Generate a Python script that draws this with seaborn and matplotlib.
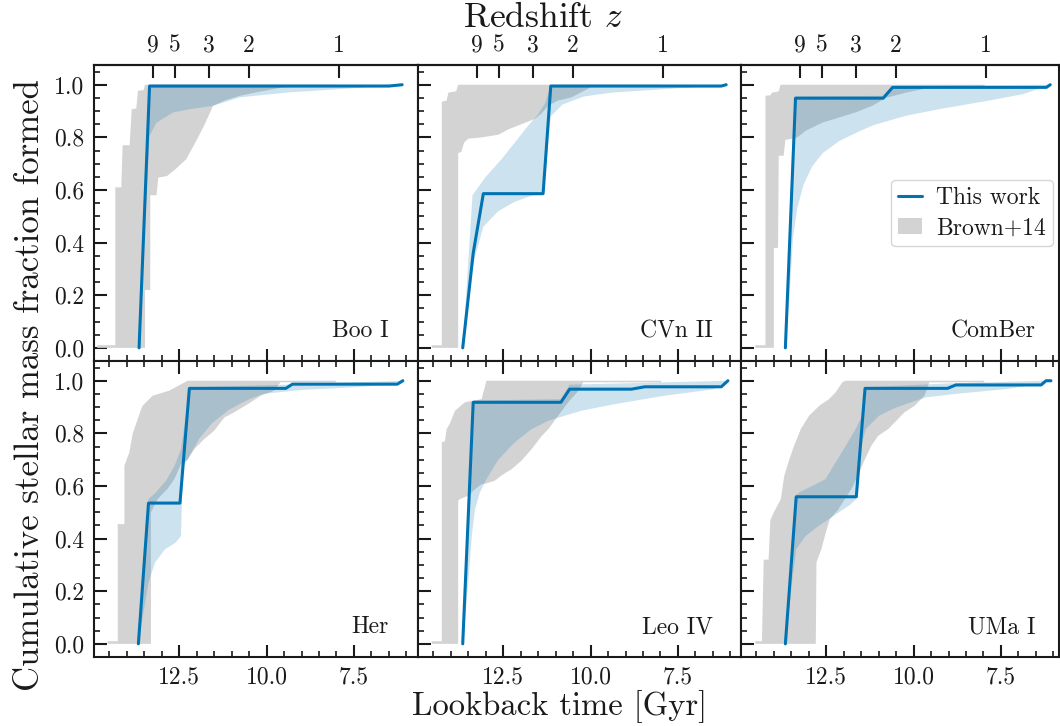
import numpy as np
import matplotlib
matplotlib.use("Agg")
import matplotlib.pyplot as plt
import seaborn as sns
from matplotlib.lines import Line2D
from matplotlib.patches import Patch
from matplotlib.ticker import FixedLocator, MultipleLocator, NullLocator

# ---------------- data ----------------
GALAXIES = ["Boo I", "CVn II", "ComBer", "Her", "Leo IV", "UMa I"]
Z_TICKS = [9, 5, 3, 2, 1]
X_TICKS = [12.5, 10.0, 7.5]
Y_TICKS = [0.0, 0.2, 0.4, 0.6, 0.8, 1.0]

# Boo I
BOO_LINE_T = [13.65, 13.35, 6.50, 6.12]
BOO_LINE_F = [0.0, 0.995, 0.995, 1.0]
BOO_BHI_T = [13.65, 13.36, 6.12]
BOO_BHI_F = [0.0, 1.0, 1.0]
BOO_BLO_T = [13.65, 13.35, 13.15, 12.67, 12.2, 11.53, 10.77, 9.35, 7.93, 6.5, 6.12]
BOO_BLO_F = [0.0, 0.806, 0.856, 0.895, 0.907, 0.92, 0.952, 0.971, 0.983, 0.996, 1.0]
BOO_GHI_T = [14.85, 14.85, 14.33, 14.33, 14.16, 14.12, 13.92, 13.86, 13.73, 13.68, 13.52, 13.48, 8.02]
BOO_GHI_F = [0.0, 0.01, 0.01, 0.61, 0.61, 0.77, 0.77, 0.907, 0.91, 0.977, 0.98, 1.0, 1.0]
BOO_GLO_T = [13.48, 13.48, 13.33, 13.33, 13.15, 13.10, 12.85, 12.6, 12.3, 12.0, 11.77, 11.53, 11.2, 10.77, 10.3, 9.54, 8.6, 8.02]
BOO_GLO_F = [0.0, 0.22, 0.22, 0.58, 0.58, 0.647, 0.653, 0.68, 0.717, 0.79, 0.85, 0.92, 0.94, 0.958, 0.971, 0.99, 0.995, 0.995]

# CVn II
CVN_LINE_T = [13.66, 13.36, 13.07, 11.36, 11.14, 6.26, 6.12]
CVN_LINE_F = [0.0, 0.36, 0.586, 0.586, 0.995, 0.995, 1.0]
CVN_BHI_T = [13.66, 13.38, 13.02, 12.55, 12.17, 11.79, 11.5, 11.3, 11.14, 10.0, 6.12]
CVN_BHI_F = [0.0, 0.58, 0.647, 0.717, 0.78, 0.844, 0.888, 0.93, 0.996, 1.0, 1.0]
CVN_BLO_T = [13.66, 13.52, 13.34, 13.07, 12.64, 12.17, 11.69, 11.36, 11.14, 10.8, 10.2, 9.4, 7.9, 6.5, 6.12]
CVN_BLO_F = [0.0, 0.2, 0.33, 0.46, 0.52, 0.555, 0.578, 0.586, 0.88, 0.925, 0.955, 0.97, 0.983, 0.995, 1.0]
CVN_GHI_T = [14.55, 14.55, 14.26, 14.26, 14.12, 14.07, 13.85, 13.79, 7.98]
CVN_GHI_F = [0.0, 0.01, 0.01, 0.935, 0.94, 0.97, 0.975, 1.0, 1.0]
CVN_GLO_T = [13.79, 13.79, 13.70, 13.62, 13.5, 13.12, 12.64, 12.36, 11.98, 11.6, 11.41, 11.22, 10.93, 10.55, 10.07, 9.98, 7.98]
CVN_GLO_F = [0.0, 0.74, 0.745, 0.78, 0.795, 0.8, 0.81, 0.83, 0.85, 0.87, 0.89, 0.92, 0.94, 0.952, 0.985, 0.994, 0.994]

# ComBer
COM_LINE_T = [13.67, 13.38, 10.87, 10.6, 6.2, 6.09]
COM_LINE_F = [0.0, 0.949, 0.949, 0.99, 0.99, 1.0]
COM_BHI_T = [13.67, 13.38, 10.87, 10.6, 6.09]
COM_BHI_F = [0.0, 0.955, 0.958, 0.995, 1.0]
COM_BLO_T = [13.67, 13.55, 13.45, 13.33, 13.15, 12.9, 12.6, 12.14, 11.6, 11.18, 10.22, 9.27, 7.83, 6.87, 6.09]
COM_BLO_F = [0.0, 0.2, 0.42, 0.53, 0.62, 0.69, 0.74, 0.785, 0.82, 0.845, 0.882, 0.907, 0.94, 0.964, 1.0]
COM_GHI_T = [14.53, 14.53, 14.24, 14.24, 14.10, 14.05, 13.86, 13.81, 7.97]
COM_GHI_F = [0.0, 0.01, 0.01, 0.958, 0.96, 0.97, 0.975, 1.0, 1.0]
COM_GLO_T = [14.0, 14.0, 13.88, 13.86, 13.72, 13.67, 13.48, 13.33, 13.09, 12.61, 12.14, 11.66, 11.18, 10.8, 10.22, 9.75, 9.70, 7.97]
COM_GLO_F = [0.0, 0.38, 0.38, 0.73, 0.73, 0.79, 0.795, 0.8, 0.825, 0.856, 0.875, 0.895, 0.92, 0.95, 0.97, 0.983, 0.994, 0.994]

# Her
HER_LINE_T = [13.67, 13.38, 12.48, 12.21, 9.45, 9.26, 6.26, 6.1]
HER_LINE_F = [0.0, 0.535, 0.535, 0.971, 0.971, 0.987, 0.987, 1.0]
HER_BHI_T = [13.67, 13.38, 13.17, 12.88, 12.64, 12.45, 12.31, 12.21, 9.45, 6.1]
HER_BHI_F = [0.0, 0.55, 0.575, 0.62, 0.675, 0.74, 0.87, 0.975, 0.985, 1.0]
HER_BLO_T = [13.67, 13.38, 13.19, 12.9, 12.6, 12.45, 12.4, 12.35, 11.93, 11.55, 11.07, 10.5, 10.1, 9.0, 7.5, 6.5, 6.1]
HER_BLO_F = [0.0, 0.233, 0.31, 0.36, 0.385, 0.41, 0.66, 0.68, 0.78, 0.84, 0.89, 0.93, 0.95, 0.965, 0.975, 0.985, 1.0]
HER_GHI_T = [14.55, 14.55, 14.26, 14.26, 14.07, 14.07, 13.93, 13.83, 13.64, 13.55, 13.26, 12.79, 12.26, 8.02]
HER_GHI_F = [0.0, 0.01, 0.01, 0.455, 0.455, 0.677, 0.727, 0.80, 0.873, 0.905, 0.943, 0.962, 1.0, 1.0]
HER_GLO_T = [13.31, 13.31, 13.12, 12.83, 12.64, 12.45, 12.26, 12.07, 11.79, 11.5, 11.21, 10.93, 10.55, 10.17, 9.79, 9.6, 8.02]
HER_GLO_F = [0.0, 0.5, 0.55, 0.59, 0.626, 0.683, 0.70, 0.74, 0.778, 0.81, 0.86, 0.88, 0.91, 0.943, 0.962, 0.994, 0.994]

# Leo IV
LEO_LINE_T = [13.66, 13.36, 10.85, 10.6, 8.83, 8.45, 6.26, 6.07]
LEO_LINE_F = [0.0, 0.918, 0.918, 0.968, 0.968, 0.977, 0.977, 1.0]
LEO_BHI_T = [13.66, 13.36, 10.85, 10.6, 6.07]
LEO_BHI_F = [0.0, 0.925, 0.93, 0.985, 1.0]
LEO_BLO_T = [13.66, 13.50, 13.40, 13.31, 13.17, 12.98, 12.64, 12.17, 11.69, 11.21, 10.74, 10.26, 9.31, 7.88, 6.45, 6.07]
LEO_BLO_F = [0.0, 0.233, 0.41, 0.51, 0.575, 0.626, 0.70, 0.766, 0.816, 0.848, 0.867, 0.886, 0.911, 0.943, 0.968, 1.0]
LEO_GHI_T = [14.55, 14.55, 14.26, 14.26, 14.17, 14.12, 14.02, 13.88, 13.6, 13.12, 12.98, 7.98]
LEO_GHI_F = [0.0, 0.01, 0.01, 0.766, 0.77, 0.816, 0.84, 0.886, 0.918, 0.93, 1.0, 1.0]
LEO_GLO_T = [13.79, 13.79, 13.74, 13.5, 13.31, 13.12, 12.98, 12.74, 12.55, 12.26, 11.98, 11.69, 11.4, 11.21, 10.93, 10.64, 10.36, 10.21, 7.98]
LEO_GLO_F = [0.0, 0.544, 0.55, 0.563, 0.588, 0.607, 0.61, 0.62, 0.64, 0.664, 0.696, 0.74, 0.79, 0.816, 0.867, 0.918, 0.96, 0.994, 0.994]

# UMa I
UMA_LINE_T = [13.67, 13.36, 11.64, 11.39, 9.03, 8.79, 6.35, 6.21, 6.07]
UMA_LINE_F = [0.0, 0.559, 0.559, 0.971, 0.971, 0.984, 0.984, 1.0, 1.0]
UMA_BHI_T = [13.67, 13.36, 13.28, 12.9, 12.52, 12.23, 11.94, 11.66, 11.47, 11.39, 9.0, 6.21, 6.07]
UMA_BHI_F = [0.0, 0.565, 0.575, 0.6, 0.626, 0.69, 0.753, 0.816, 0.867, 0.975, 0.99, 1.0, 1.0]
UMA_BLO_T = [13.67, 13.48, 13.36, 13.09, 12.71, 12.42, 12.14, 11.85, 11.64, 11.52, 11.37, 10.99, 10.61, 10.23, 9.65, 8.79, 7.36, 6.4, 6.07]
UMA_BLO_F = [0.0, 0.233, 0.36, 0.41, 0.449, 0.474, 0.5, 0.525, 0.55, 0.74, 0.816, 0.867, 0.892, 0.911, 0.937, 0.95, 0.968, 0.987, 1.0]
UMA_GHI_T = [14.53, 14.53, 14.34, 14.29, 14.15, 14.10, 14.0, 13.8, 13.7, 13.56, 13.42, 13.23, 12.99, 12.7, 12.42, 12.23, 12.04, 11.95, 7.98]
UMA_GHI_F = [0.0, 0.01, 0.01, 0.32, 0.32, 0.47, 0.5, 0.55, 0.64, 0.70, 0.753, 0.816, 0.867, 0.905, 0.93, 0.956, 0.994, 1.0, 1.0]
UMA_GLO_T = [12.8, 12.78, 12.64, 12.54, 12.40, 12.16, 11.97, 11.78, 11.59, 11.4, 11.21, 11.02, 10.73, 10.45, 10.26, 9.97, 9.69, 9.55, 7.98]
UMA_GLO_F = [0.0, 0.31, 0.36, 0.41, 0.474, 0.51, 0.55, 0.588, 0.64, 0.70, 0.753, 0.79, 0.816, 0.854, 0.88, 0.905, 0.943, 0.994, 0.994]

PANELS = [
    (BOO_LINE_T, BOO_LINE_F, BOO_BHI_T, BOO_BHI_F, BOO_BLO_T, BOO_BLO_F, BOO_GHI_T, BOO_GHI_F, BOO_GLO_T, BOO_GLO_F),
    (CVN_LINE_T, CVN_LINE_F, CVN_BHI_T, CVN_BHI_F, CVN_BLO_T, CVN_BLO_F, CVN_GHI_T, CVN_GHI_F, CVN_GLO_T, CVN_GLO_F),
    (COM_LINE_T, COM_LINE_F, COM_BHI_T, COM_BHI_F, COM_BLO_T, COM_BLO_F, COM_GHI_T, COM_GHI_F, COM_GLO_T, COM_GLO_F),
    (HER_LINE_T, HER_LINE_F, HER_BHI_T, HER_BHI_F, HER_BLO_T, HER_BLO_F, HER_GHI_T, HER_GHI_F, HER_GLO_T, HER_GLO_F),
    (LEO_LINE_T, LEO_LINE_F, LEO_BHI_T, LEO_BHI_F, LEO_BLO_T, LEO_BLO_F, LEO_GHI_T, LEO_GHI_F, LEO_GLO_T, LEO_GLO_F),
    (UMA_LINE_T, UMA_LINE_F, UMA_BHI_T, UMA_BHI_F, UMA_BLO_T, UMA_BLO_F, UMA_GHI_T, UMA_GHI_F, UMA_GLO_T, UMA_GLO_F),
]


# lookback time (flat LCDM, Planck-like) for the redshift axis
def lookback(z, H0=67.7, Om=0.31):
    zz = np.linspace(0.0, z, 4001)
    E = np.sqrt(Om * (1 + zz) ** 3 + (1 - Om))
    return 977.8 / H0 * np.trapezoid(1.0 / ((1 + zz) * E), zz)


# ---------------- style ----------------
sns.set_theme(style="ticks")
plt.rcParams.update({
    "font.family": "serif",
    "font.serif": ["cmr10", "DejaVu Serif"],
    "mathtext.fontset": "cm",
    "axes.formatter.use_mathtext": True,
    "axes.linewidth": 1.5,
    "axes.edgecolor": "#1a1a1a",
    "xtick.color": "#1a1a1a",
    "ytick.color": "#1a1a1a",
    "text.color": "#1a1a1a",
    "axes.unicode_minus": False,
})

BLUE = sns.color_palette("colorblind")[0]
GRAY = "#d3d3d3"
LAB = 17

fig = plt.figure(figsize=(10.6, 7.26), dpi=100)
W, H = 1060.0, 726.0
gs = fig.add_gridspec(2, 3, left=94 / W, right=1059 / W, top=1 - 65 / H, bottom=1 - 657 / H,
                      wspace=0, hspace=0, width_ratios=[324, 323, 318])

PX_PER_GYR = 34.94
XLEFT = 14.94
col_px = [324, 323, 318]

for i, name in enumerate(GALAXIES):
    r, c = divmod(i, 3)
    ax = fig.add_subplot(gs[r, c])
    (lt, lf, bht, bhf, blt, blf, ght, ghf, glt, glf) = PANELS[i]

    ax.fill(list(ght) + list(glt)[::-1], list(ghf) + list(glf)[::-1], color=GRAY, lw=0, zorder=1)
    ax.fill(list(bht) + list(blt)[::-1], list(bhf) + list(blf)[::-1], color=BLUE, alpha=0.2, lw=0, zorder=2)
    sns.lineplot(x=lt, y=lf, ax=ax, color=BLUE, lw=2.2, sort=False, estimator=None, zorder=3)

    ax.set_xlim(XLEFT, XLEFT - col_px[c] / PX_PER_GYR)
    ax.set_ylim(-0.05, 1.075)
    ax.set_xlabel("")
    ax.set_ylabel("")

    ax.xaxis.set_major_locator(FixedLocator(X_TICKS))
    ax.xaxis.set_minor_locator(MultipleLocator(0.5))
    ax.yaxis.set_major_locator(FixedLocator(Y_TICKS))
    ax.yaxis.set_minor_locator(MultipleLocator(0.05))
    ax.set_xticklabels([f"{v:.1f}" for v in X_TICKS])
    ax.set_yticklabels([f"{v:.1f}" for v in Y_TICKS])

    ax.tick_params(axis="both", which="both", direction="in", right=False, top=(r == 1),
                   labelsize=LAB, pad=7)
    ax.tick_params(which="major", length=9, width=1.5)
    ax.tick_params(which="minor", length=4.5, width=1.2)
    if c > 0:
        ax.tick_params(labelleft=False)
    if r == 0:
        ax.tick_params(labelbottom=False)
        sec = ax.secondary_xaxis("top")
        sec.set_xticks([lookback(z) for z in Z_TICKS], labels=[str(z) for z in Z_TICKS])
        sec.xaxis.set_minor_locator(NullLocator())
        sec.tick_params(direction="in", length=9, width=1.5, labelsize=LAB, pad=6)

    ax.text(6.5, 0.04, name, ha="right", va="baseline", fontsize=LAB)

    if name == "ComBer":
        handles = [Line2D([], [], color=BLUE, lw=2.2), Patch(facecolor=GRAY, edgecolor="none")]
        ax.legend(handles, ["This work", "Brown+14"], loc="center right", fontsize=LAB,
                  handlelength=1.0, handletextpad=0.6, frameon=True, fancybox=True,
                  edgecolor="#cccccc", framealpha=0.8, borderpad=0.3, labelspacing=0.35,
                  borderaxespad=0.25)

fig.text(543 / W, 1 - 18 / H, r"Redshift $z$", ha="center", va="center", fontsize=25.5)
fig.text(560 / W, 1 - 707 / H, "Lookback time [Gyr]", ha="center", va="center", fontsize=23.5)
fig.text(30 / W, 1 - 385 / H, "Cumulative stellar mass fraction formed", rotation=90,
         ha="center", va="center", fontsize=25)

fig.savefig("out.png", dpi=100)
